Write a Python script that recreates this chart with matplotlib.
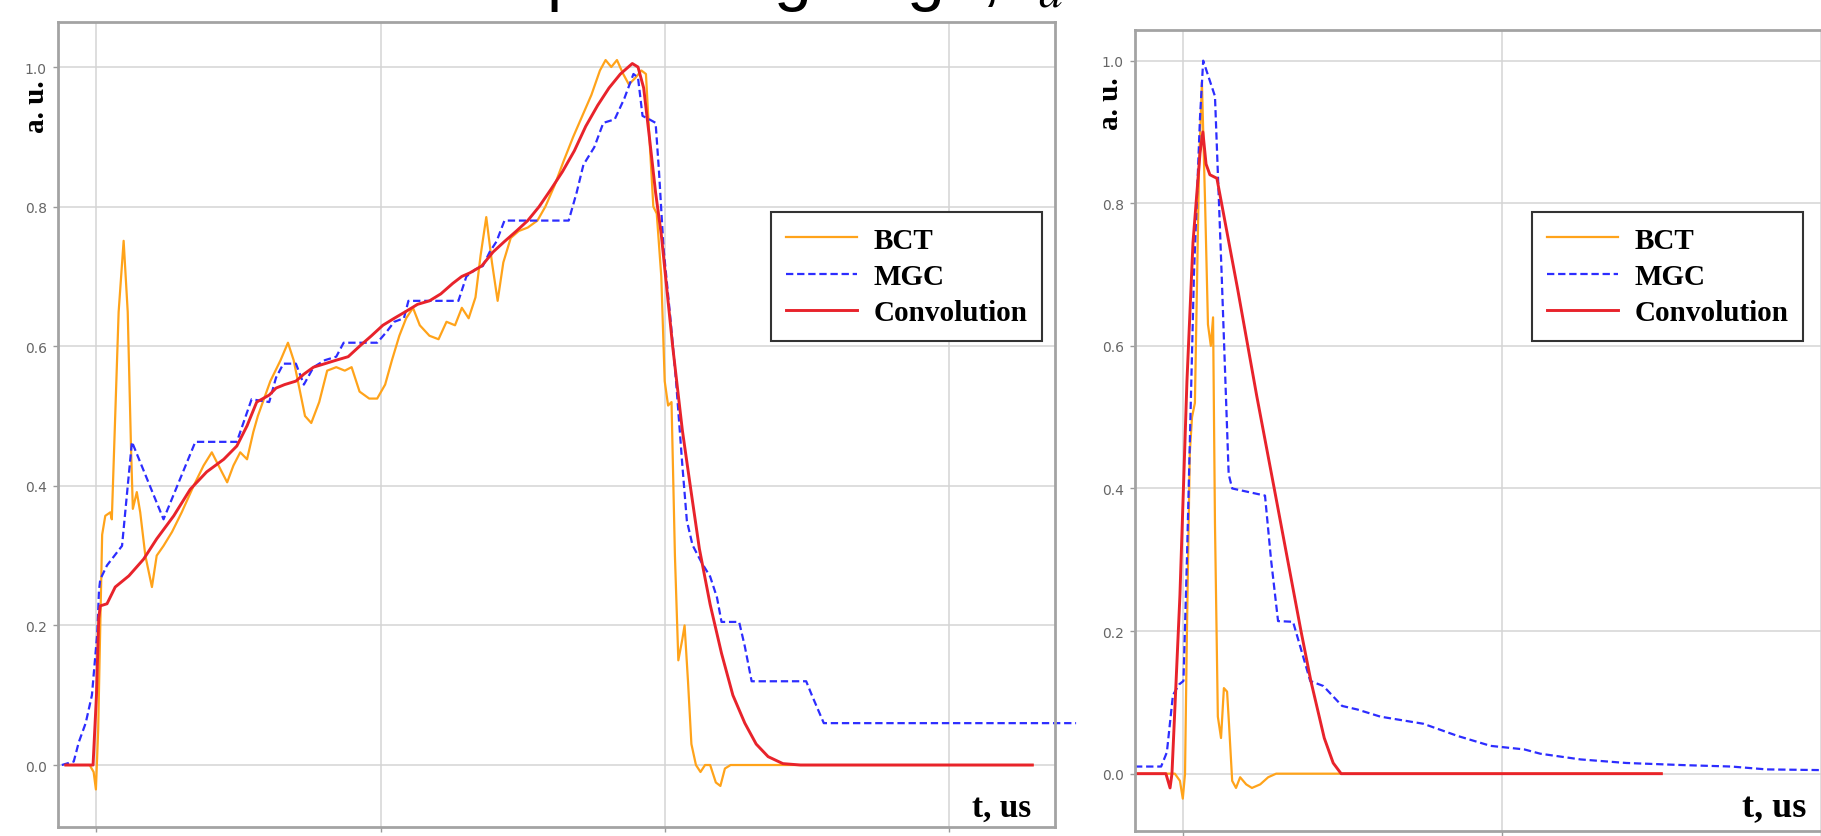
import matplotlib
matplotlib.use("Agg")
import matplotlib.pyplot as plt

# ---- long pulse (left panel) ----
bct_left_t = [-5.4, -1.2, -0.5, -0.1, 0.3, 0.67, 1.0, 1.55, 2.43, 2.7, 3.9, 4.78, 5.5, 6.07, 6.4,
              7.1, 7.7, 8.6, 9.76, 10.6, 11.8, 13.3, 15.0, 17.1, 18.85, 20.3, 21.8, 23.0, 24.1,
              25.3, 26.5, 27.6, 28.4, 30.6, 32.4, 33.7, 34.7, 35.7, 36.7, 37.8, 39.2, 40.6, 42.2,
              43.7, 44.9, 46.3, 48.0, 49.4, 50.8, 52.0, 53.3, 54.5, 55.7, 56.9, 58.6, 60.2, 61.6,
              63.1, 64.3, 65.5, 66.7, 67.6, 68.6, 69.6, 70.6, 71.6, 72.9, 74.3, 75.9, 77.6, 79.0,
              80.6, 82.2, 83.9, 85.5, 87.1, 88.6, 89.6, 90.6, 91.6, 92.7, 93.7, 94.9, 95.9, 96.7,
              97.3, 98.0, 98.6, 99.4, 100.0, 100.6, 101.2, 101.8, 102.4, 103.1, 103.5, 104.1,
              104.7, 105.5, 106.3, 107.1, 108.0, 109.0, 109.8, 110.6, 111.6, 164.7]
bct_left_v = [0.0, 0.0, -0.01, -0.035, 0.05, 0.20, 0.33, 0.357, 0.362, 0.352, 0.649, 0.751, 0.649,
              0.457, 0.367, 0.391, 0.362, 0.30, 0.255, 0.30, 0.314, 0.334, 0.362, 0.40, 0.429,
              0.448, 0.424, 0.405, 0.429, 0.448, 0.438, 0.477, 0.50, 0.55, 0.58, 0.605, 0.58,
              0.54, 0.50, 0.49, 0.52, 0.565, 0.57, 0.565, 0.57, 0.535, 0.525, 0.525, 0.545, 0.58,
              0.615, 0.64, 0.655, 0.63, 0.615, 0.61, 0.635, 0.63, 0.655, 0.64, 0.67, 0.73, 0.785,
              0.72, 0.665, 0.72, 0.755, 0.765, 0.77, 0.78, 0.80, 0.83, 0.865, 0.90, 0.93, 0.96,
              0.995, 1.01, 1.0, 1.01, 0.99, 0.975, 0.985, 0.995, 0.99, 0.90, 0.80, 0.79, 0.70,
              0.55, 0.515, 0.52, 0.30, 0.15, 0.18, 0.20, 0.12, 0.03, 0.0, -0.01, 0.0, 0.0, -0.025,
              -0.03, -0.005, 0.0, 0.0]

mgc_left_t = [-6.1, -4.0, -3.1, -1.9, -0.8, 0.15, 0.44, 0.67, 1.85, 4.5, 6.24, 11.8, 17.4, 24.7,
              27.3, 30.4, 31.6, 32.9, 35.1, 36.5, 38.2, 40.2, 42.2, 43.5, 49.4, 51.0, 52.4, 54.1,
              54.9, 63.7, 65.1, 66.7, 68.0, 69.2, 70.4, 71.8, 83.1, 84.5, 85.7, 87.6, 89.2, 91.2,
              92.9, 94.5, 95.3, 96.1, 97.3, 98.4, 99.0, 99.8, 101.0, 102.0, 103.1, 103.9, 104.9,
              106.5, 108.0, 109.2, 110.0, 113.1, 114.1, 115.3, 124.9, 125.9, 128.0, 172.4]
mgc_left_v = [0.0, 0.005, 0.033, 0.06, 0.10, 0.19, 0.25, 0.266, 0.286, 0.314, 0.463, 0.352, 0.463,
              0.463, 0.524, 0.52, 0.555, 0.575, 0.575, 0.545, 0.57, 0.58, 0.585, 0.605, 0.605,
              0.62, 0.635, 0.64, 0.665, 0.665, 0.70, 0.71, 0.715, 0.735, 0.75, 0.78, 0.78, 0.82,
              0.86, 0.885, 0.92, 0.925, 0.955, 0.99, 0.985, 0.93, 0.925, 0.92, 0.85, 0.74, 0.64,
              0.55, 0.43, 0.35, 0.315, 0.29, 0.27, 0.24, 0.205, 0.205, 0.17, 0.12, 0.12, 0.10,
              0.06, 0.06]

conv_left_t = [-5.4, -0.6, 0.0, 0.4, 0.67, 1.85, 3.3, 5.7, 8.3, 10.6, 13.6, 16.5, 19.4, 22.4,
               24.7, 26.5, 28.2, 30.4, 31.6, 33.1, 35.1, 36.5, 38.2, 40.2, 42.2, 44.3, 46.3, 48.4,
               50.4, 52.4, 54.5, 56.5, 58.6, 60.6, 62.7, 64.3, 65.7, 67.8, 69.8, 71.8, 73.9, 75.9,
               77.9, 80.0, 82.0, 84.1, 86.1, 88.2, 90.2, 92.2, 94.3, 95.3, 96.3, 97.3, 98.4, 99.4,
               100.4, 101.4, 103.1, 104.5, 106.1, 108.0, 110.0, 112.0, 114.1, 116.1, 118.2, 120.8,
               123.9, 164.7]
conv_left_v = [0.0, 0.0, 0.1, 0.21, 0.228, 0.231, 0.255, 0.271, 0.295, 0.324, 0.357, 0.395, 0.42,
               0.438, 0.457, 0.486, 0.52, 0.53, 0.54, 0.545, 0.55, 0.56, 0.57, 0.575, 0.58, 0.585,
               0.60, 0.615, 0.63, 0.64, 0.65, 0.66, 0.665, 0.675, 0.69, 0.70, 0.705, 0.715, 0.735,
               0.75, 0.765, 0.78, 0.80, 0.825, 0.85, 0.88, 0.915, 0.945, 0.97, 0.99, 1.005, 1.0,
               0.97, 0.90, 0.82, 0.76, 0.68, 0.60, 0.48, 0.40, 0.31, 0.23, 0.16, 0.10, 0.06, 0.03,
               0.012, 0.002, 0.0, 0.0]

# ---- short pulse (right panel) ----
bct_right_t = [-1.53, -0.27, -0.11, -0.02, 0.05, 0.11, 0.2, 0.27, 0.36, 0.49, 0.58, 0.68, 0.77,
               0.86, 0.93, 0.99, 1.08, 1.18, 1.27, 1.37, 1.43, 1.53, 1.65, 1.78, 1.97, 2.15, 2.41,
               2.66, 2.91, 15.0]
bct_right_v = [0.0, 0.0, -0.01, -0.035, 0.0, 0.2, 0.45, 0.5, 0.52, 0.85, 0.97, 0.8, 0.63, 0.60,
               0.64, 0.35, 0.08, 0.05, 0.12, 0.115, 0.07, -0.01, -0.02, -0.005, -0.015, -0.02,
               -0.015, -0.005, 0.0, 0.0]

mgc_right_t = [-1.52, -0.7, -0.52, -0.33, -0.14, 0.0, 0.11, 0.33, 0.52, 0.62, 0.99, 1.2, 1.42,
               1.53, 2.56, 2.75, 2.97, 3.44, 3.98, 4.39, 4.98, 5.46, 6.18, 7.53, 8.6, 9.64, 10.7,
               11.2, 12.46, 13.9, 15.7, 17.2, 18.3, 20.05, 20.45]
mgc_right_v = [0.01, 0.01, 0.03, 0.11, 0.125, 0.13, 0.3, 0.7, 0.92, 1.0, 0.95, 0.7, 0.42, 0.40,
               0.39, 0.3, 0.214, 0.213, 0.13, 0.123, 0.095, 0.09, 0.08, 0.07, 0.053, 0.039, 0.034,
               0.028, 0.02, 0.015, 0.012, 0.01, 0.006, 0.005, 0.005]

conv_right_t = [-1.53, -0.55, -0.42, -0.36, -0.11, 0.11, 0.30, 0.52, 0.61, 0.71, 0.83, 1.05, 1.7,
                2.3, 2.85, 3.69, 4.0, 4.42, 4.7, 4.95, 15.0]
conv_right_v = [0.0, 0.0, -0.02, 0.0, 0.25, 0.55, 0.745, 0.87, 0.90, 0.855, 0.84, 0.835, 0.68,
                0.53, 0.40, 0.20, 0.13, 0.05, 0.015, 0.0, 0.0]

y_ticks = [0.0, 0.2, 0.4, 0.6, 0.8, 1.0]
left_x_ticks = [0, 50, 100, 150]
right_x_ticks = [0, 10, 20]
series_labels = ["BCT", "MGC", "Convolution"]

W, H = 1821, 837
fig = plt.figure(figsize=(W / 100, H / 100), dpi=100)
fig.patch.set_facecolor("white")


def axes_px(left, right, top, bottom):
    return fig.add_axes([left / W, 1 - bottom / H, (right - left) / W, (bottom - top) / H])


ax1 = axes_px(58, 1054.5, 23, 828)
ax2 = axes_px(1135, 1835, 31, 832)

BCT_C = "#ffa31a"
MGC_C = "#2d2dff"
CONV_C = "#e8232b"
serif_bold = dict(family="Liberation Serif", weight="bold")

panels = [
    (ax1, (bct_left_t, bct_left_v), (mgc_left_t, mgc_left_v), (conv_left_t, conv_left_v),
     (-6.77, 168.6), (-0.0888, 1.0645), left_x_ticks),
    (ax2, (bct_right_t, bct_right_v), (mgc_right_t, mgc_right_v), (conv_right_t, conv_right_v),
     (-1.52, 20.45), (-0.0804, 1.043), right_x_ticks),
]

for ax, bct, mgc, conv, xl, yl, xt in panels:
    ax.set_facecolor("white")
    ax.plot(*bct, color=BCT_C, lw=1.6, label=series_labels[0])
    ax.plot(*mgc, color=MGC_C, lw=1.6, ls=(0, (3.3, 1.7)), label=series_labels[1])
    ax.plot(*conv, color=CONV_C, lw=2.1, label=series_labels[2])
    ax.set_xlim(*xl)
    ax.set_ylim(*yl)
    ax.set_xticks(xt)
    ax.set_yticks(y_ticks)
    ax.set_yticklabels([f"{v:.1f}" for v in y_ticks])
    ax.grid(True, color="#d4d4d4", lw=1.1)
    ax.set_axisbelow(True)
    for sp in ax.spines.values():
        sp.set_color("#a3a3a3")
        sp.set_linewidth(2.0)
    ax.tick_params(colors="#9a9a9a", labelcolor="#666666", labelsize=10, length=3.5, width=1,
                   pad=4.5)

# the long-pulse MGC trace runs slightly past the right spine
ax1.lines[1].set_clip_on(False)

leg_kw = dict(prop=dict(size=21, **serif_bold), frameon=True, fancybox=False, framealpha=1,
              edgecolor="#333333", handlelength=2.45, handletextpad=0.55, labelspacing=0.32,
              borderpad=0.5, borderaxespad=0, loc="upper right", bbox_transform=fig.transFigure)
for ax, x_right in ((ax1, 1042), (ax2, 1803)):
    lg = ax.legend(bbox_to_anchor=(x_right / W, 1 - 213 / H), **leg_kw)
    lg.get_frame().set_linewidth(1.5)

# axis captions
fig.text(36 / W, 1 - 107 / H, "a. u.", rotation=90, ha="center", va="center", size=21, **serif_bold)
fig.text(1111 / W, 1 - 104 / H, "a. u.", rotation=90, ha="center", va="center", size=21, **serif_bold)
fig.text(1031 / W, 1 - 808 / H, "t, us", ha="right", va="center", size=24, **serif_bold)
fig.text(1806 / W, 1 - 809 / H, "t, us", ha="right", va="center", size=26, **serif_bold)

# slide heading above the panels
fig.text(324 / W, 1 - 14 / H, "Pulse spreading edge, $t_a$", ha="left", va="bottom", size=49,
         family="Liberation Sans", math_fontfamily="stix")

fig.savefig("out.png", dpi=100)
